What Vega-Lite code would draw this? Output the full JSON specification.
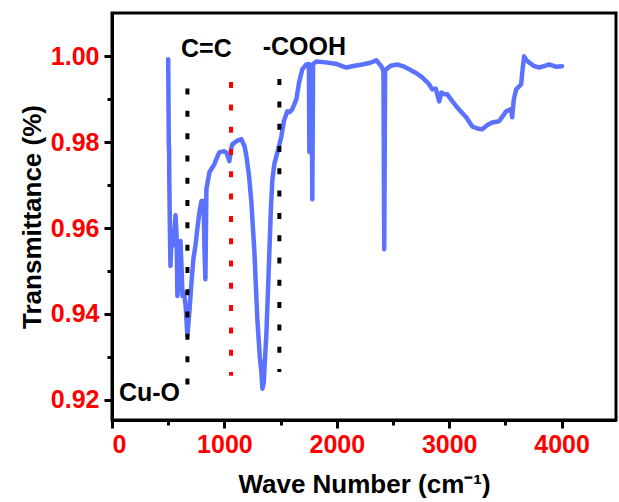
{
  "$schema": "https://vega.github.io/schema/vega-lite/v6.json",
  "width": 504,
  "height": 407,
  "autosize": {"type": "none"},
  "padding": {"left": 112, "top": 13, "right": 3, "bottom": 82},
  "config": {
    "font": "Liberation Sans",
    "view": {"stroke": "#000000", "strokeWidth": 3},
    "axis": {
      "grid": false,
      "domainColor": "#000000",
      "domainWidth": 3,
      "tickColor": "#000000",
      "tickWidth": 3,
      "labelColor": "#ff0000",
      "labelFont": "Liberation Sans",
      "labelFontWeight": "bold",
      "labelFontSize": 25,
      "titleFont": "Liberation Sans",
      "titleFontWeight": "bold",
      "titleFontSize": 26,
      "titleColor": "#000000"
    }
  },
  "layer": [
    {
      "data": {"values": [
        {"wn": 500, "t": 0.9993}, {"wn": 505, "t": 0.98}, {"wn": 508, "t": 0.978}, {"wn": 510, "t": 0.9707},
        {"wn": 515, "t": 0.96}, {"wn": 520, "t": 0.9512}, {"wn": 530, "t": 0.958}, {"wn": 545, "t": 0.956},
        {"wn": 565, "t": 0.963}, {"wn": 575, "t": 0.958}, {"wn": 582, "t": 0.9442}, {"wn": 595, "t": 0.95},
        {"wn": 609, "t": 0.957}, {"wn": 620, "t": 0.95}, {"wn": 627, "t": 0.9442}, {"wn": 640, "t": 0.945},
        {"wn": 655, "t": 0.942}, {"wn": 671, "t": 0.9349}, {"wn": 690, "t": 0.941}, {"wn": 707, "t": 0.9474},
        {"wn": 725, "t": 0.953}, {"wn": 742, "t": 0.9558}, {"wn": 760, "t": 0.96}, {"wn": 778, "t": 0.9637},
        {"wn": 796, "t": 0.9663}, {"wn": 815, "t": 0.9663}, {"wn": 822, "t": 0.956}, {"wn": 831, "t": 0.9481},
        {"wn": 836, "t": 0.96}, {"wn": 840, "t": 0.9691}, {"wn": 867, "t": 0.973}, {"wn": 890, "t": 0.974},
        {"wn": 911, "t": 0.9749}, {"wn": 935, "t": 0.9765}, {"wn": 956, "t": 0.9777}, {"wn": 1000, "t": 0.9779},
        {"wn": 1020, "t": 0.9775}, {"wn": 1044, "t": 0.9756}, {"wn": 1060, "t": 0.9785}, {"wn": 1071, "t": 0.9795},
        {"wn": 1110, "t": 0.9803}, {"wn": 1151, "t": 0.9807}, {"wn": 1180, "t": 0.979}, {"wn": 1196, "t": 0.9767},
        {"wn": 1220, "t": 0.972}, {"wn": 1240, "t": 0.966}, {"wn": 1267, "t": 0.9544}, {"wn": 1293, "t": 0.9388},
        {"wn": 1315, "t": 0.93}, {"wn": 1329, "t": 0.9265}, {"wn": 1338, "t": 0.9226}, {"wn": 1350, "t": 0.924},
        {"wn": 1362, "t": 0.93}, {"wn": 1373, "t": 0.9349}, {"wn": 1387, "t": 0.945}, {"wn": 1400, "t": 0.9544},
        {"wn": 1413, "t": 0.964}, {"wn": 1427, "t": 0.9714}, {"wn": 1445, "t": 0.975}, {"wn": 1462, "t": 0.9767},
        {"wn": 1485, "t": 0.979}, {"wn": 1507, "t": 0.9814}, {"wn": 1530, "t": 0.985}, {"wn": 1560, "t": 0.9872},
        {"wn": 1580, "t": 0.987}, {"wn": 1604, "t": 0.9877}, {"wn": 1640, "t": 0.99}, {"wn": 1665, "t": 0.994},
        {"wn": 1693, "t": 0.997}, {"wn": 1729, "t": 0.9981}, {"wn": 1752, "t": 0.9982}, {"wn": 1756, "t": 0.9777},
        {"wn": 1760, "t": 0.996}, {"wn": 1775, "t": 0.998}, {"wn": 1782, "t": 0.9667}, {"wn": 1789, "t": 0.9982},
        {"wn": 1818, "t": 0.9988}, {"wn": 1900, "t": 0.9986}, {"wn": 2000, "t": 0.9982}, {"wn": 2084, "t": 0.9974},
        {"wn": 2160, "t": 0.9978}, {"wn": 2226, "t": 0.9981}, {"wn": 2300, "t": 0.9985}, {"wn": 2351, "t": 0.9991},
        {"wn": 2396, "t": 0.9977}, {"wn": 2415, "t": 0.9965}, {"wn": 2422, "t": 0.9551}, {"wn": 2430, "t": 0.9968},
        {"wn": 2480, "t": 0.9978}, {"wn": 2538, "t": 0.9981}, {"wn": 2600, "t": 0.9976}, {"wn": 2644, "t": 0.997},
        {"wn": 2700, "t": 0.9962}, {"wn": 2760, "t": 0.9951}, {"wn": 2822, "t": 0.9935}, {"wn": 2849, "t": 0.9923},
        {"wn": 2880, "t": 0.9925}, {"wn": 2911, "t": 0.9895}, {"wn": 2930, "t": 0.9916}, {"wn": 2955, "t": 0.9912},
        {"wn": 2982, "t": 0.9912}, {"wn": 3020, "t": 0.9898}, {"wn": 3062, "t": 0.9884}, {"wn": 3110, "t": 0.987},
        {"wn": 3151, "t": 0.9858}, {"wn": 3204, "t": 0.9837}, {"wn": 3250, "t": 0.9832}, {"wn": 3293, "t": 0.983},
        {"wn": 3340, "t": 0.984}, {"wn": 3382, "t": 0.9846}, {"wn": 3444, "t": 0.9849}, {"wn": 3480, "t": 0.9862},
        {"wn": 3507, "t": 0.9872}, {"wn": 3551, "t": 0.9877}, {"wn": 3560, "t": 0.9858}, {"wn": 3575, "t": 0.99},
        {"wn": 3596, "t": 0.9923}, {"wn": 3640, "t": 0.9935}, {"wn": 3655, "t": 0.9975}, {"wn": 3667, "t": 1.0},
        {"wn": 3690, "t": 0.999}, {"wn": 3711, "t": 0.9986}, {"wn": 3750, "t": 0.9978}, {"wn": 3800, "t": 0.9974},
        {"wn": 3850, "t": 0.9978}, {"wn": 3889, "t": 0.9981}, {"wn": 3950, "t": 0.9976}, {"wn": 4004, "t": 0.9977}
      ]},
      "mark": {"type": "line", "color": "#5b72ff", "strokeWidth": 4.5, "strokeJoin": "round", "strokeCap": "round"},
      "encoding": {
        "x": {
          "field": "wn", "type": "quantitative",
          "scale": {"domain": [0, 4484], "nice": false, "zero": false},
          "axis": {
            "title": "Wave Number (cm⁻¹)",
            "values": [0, 500, 1000, 1500, 2000, 2500, 3000, 3500, 4000],
            "format": "d",
            "labelExpr": "datum.value % 1000 === 0 ? datum.label : ''",
            "tickSize": {"condition": {"test": "datum.value % 1000 === 0", "value": 8}, "value": 5},
            "labelPadding": 4,
            "titlePadding": 14
          }
        },
        "y": {
          "field": "t", "type": "quantitative",
          "scale": {"domain": [0.9153, 1.0101], "nice": false, "zero": false},
          "axis": {
            "title": "Transmittance (%)",
            "values": [0.92, 0.93, 0.94, 0.95, 0.96, 0.97, 0.98, 0.99, 1.0],
            "format": ".2f",
            "labelExpr": "round(datum.value * 100) % 2 === 0 ? datum.label : ''",
            "tickSize": {"condition": {"test": "round(datum.value * 100) % 2 === 0", "value": 8}, "value": 5},
            "labelPadding": 5,
            "titlePadding": 5
          }
        }
      }
    },
    {
      "data": {"values": [
        {"wn": 671, "top": 0.9925, "bottom": 0.9235, "kind": "black"},
        {"wn": 1059, "top": 0.994, "bottom": 0.9256, "kind": "red"},
        {"wn": 1489, "top": 0.9947, "bottom": 0.9265, "kind": "black"}
      ]},
      "mark": {"type": "rule", "strokeWidth": 4, "strokeDash": [6, 16.3], "strokeCap": "butt"},
      "encoding": {
        "x": {"field": "wn", "type": "quantitative"},
        "y": {"field": "top", "type": "quantitative"},
        "y2": {"field": "bottom"},
        "color": {"field": "kind", "type": "nominal", "scale": {"domain": ["black", "red"], "range": ["#000000", "#ff0000"]}, "legend": null}
      }
    },
    {
      "data": {"values": [
        {"wn": 840, "t": 1.0016, "label": "C=C"},
        {"wn": 1711, "t": 1.0021, "label": "-COOH"},
        {"wn": 333, "t": 0.9217, "label": "Cu-O"}
      ]},
      "mark": {"type": "text", "font": "Liberation Sans", "fontWeight": "bold", "fontSize": 25, "color": "#000000", "align": "center", "baseline": "middle"},
      "encoding": {
        "x": {"field": "wn", "type": "quantitative"},
        "y": {"field": "t", "type": "quantitative"},
        "text": {"field": "label"}
      }
    }
  ]
}
